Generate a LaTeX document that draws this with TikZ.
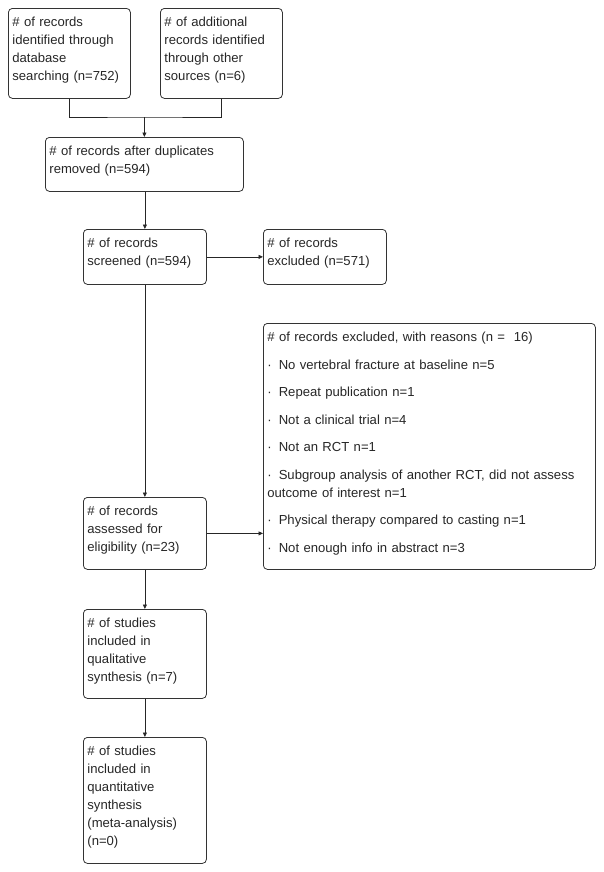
\documentclass[tikz,border=0pt]{standalone}
\usepackage{fontspec}
\setmainfont{Liberation Sans}
\usetikzlibrary{arrows.meta}
\begin{document}
\begin{tikzpicture}[x=1bp, y=-1bp,
    box/.style={draw=black!80, line width=0.8bp, rounded corners=4bp, anchor=north west,
      align=left, inner xsep=4bp, inner ysep=8bp, text height=10.5bp,
      font=\fontsize{13.1bp}{18bp}\selectfont, text=black!85},
    arr/.style={-{Triangle[length=4.5bp, width=4bp]}, line width=0.8bp, draw=black!85}]
    \useasboundingbox (0, 0) rectangle (604, 872);

    \node (db) at (8, 8) [box, text width=114bp, text depth=63.5bp]
        {\# of records\\identified through\\database\\searching (n=752)};
    \node (other) at (160, 8) [box, text width=114bp, text depth=63.5bp]
        {\# of additional\\records identified\\through other\\sources (n=6)};
    \node (dup) at (45, 137) [box, text width=190bp, text depth=27.5bp]
        {\# of records after duplicates\\removed (n=594)};
    \node (screen) at (83, 229) [box, text width=115bp, text depth=28.5bp]
        {\# of records\\screened (n=594)};
    \node (excl) at (263, 229) [box, text width=115bp, text depth=28.5bp]
        {\# of records\\excluded (n=571)};
    \node (reasons) at (263, 323) [box, text width=324bp, text depth=219.5bp]
        {\# of records excluded, with reasons (n =\ \ 16)\\[9.5bp]
         ·\hspace{7bp}No vertebral fracture at baseline n=5\\[9.5bp]
         ·\hspace{7bp}Repeat publication n=1\\[9.5bp]
         ·\hspace{7bp}Not a clinical trial n=4\\[9.5bp]
         ·\hspace{7bp}Not an RCT n=1\\[9.5bp]
         ·\hspace{7bp}Subgroup analysis of another RCT, did not assess\\
         outcome of interest n=1\\[9.5bp]
         ·\hspace{7bp}Physical therapy compared to casting n=1\\[9.5bp]
         ·\hspace{7bp}Not enough info in abstract n=3};
    \node (elig) at (83, 497) [box, text width=115bp, text depth=45.5bp]
        {\# of records\\assessed for\\eligibility (n=23)};
    \node (qual) at (83, 609) [box, text width=115bp, text depth=62.5bp]
        {\# of studies\\included in\\qualitative\\synthesis (n=7)};
    \node (quant) at (83, 737) [box, text width=115bp, text depth=99.5bp]
        {\# of studies\\included in\\quantitative\\synthesis\\(meta-analysis)\\(n=0)};

    \coordinate (join) at (dup.north |- 0, 117);
    \draw [line width=0.8bp, black!85] (db.south) |- (join) -| (other.south);
    \draw [arr] (join) -- (dup.north);
    \draw [arr] (dup.south -| screen.north) -- (screen.north);
    \draw [arr] (screen.east) -- (excl.west);
    \draw [arr] (screen.south) -- (elig.north);
    \draw [arr] (elig.east) -- (elig.east -| reasons.west);
    \draw [arr] (elig.south) -- (qual.north);
    \draw [arr] (qual.south) -- (quant.north);
\end{tikzpicture}
\end{document}
